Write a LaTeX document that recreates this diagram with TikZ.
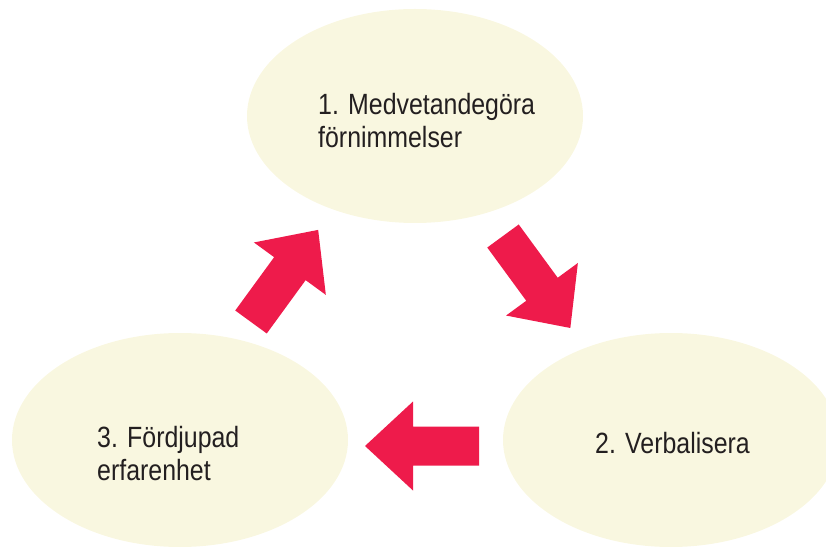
\documentclass[tikz,border=0pt]{standalone}
\usepackage{fontspec}
\setmainfont{Liberation Sans}[FakeStretch=0.85]
\usetikzlibrary{shapes.geometric}
\definecolor{cream}{RGB}{249,247,224}
\definecolor{arrowred}{RGB}{238,27,75}
\definecolor{inkdark}{RGB}{35,31,32}
\tikzset{
  bubble/.style={ellipse, fill=cream, draw=none, minimum width=336pt, minimum height=214pt, inner sep=0pt},
  label/.style={anchor=base west, align=left, inner sep=0pt, text=inkdark, font=\fontsize{29.3}{33}\selectfont},
  blockarrow/.style={fill=arrowred, draw=none}
}
\begin{document}
\begin{tikzpicture}[x=1pt,y=1pt]
\useasboundingbox (0,0) rectangle (826,549);
\node[bubble] (e1) at (415,433) {};
\node[bubble] (e2) at (671,109) {};
\node[bubble] (e3) at (180,109) {};
\node[label] (t1) at (318,401) {1. Medvetandegöra\\förnimmelser};
\node[label] (t2) at (595,96) {2. Verbalisera};
\node[label] (t3) at (97,69) {3. Fördjupad\\erfarenhet};
% block arrows
\fill[blockarrow, shift={(503,313)}, rotate=-53.8] (0,-19.5) -- (66,-19.5) -- (66,-44.5) -- (114,0) -- (66,44.5) -- (66,19.5) -- (0,19.5) -- cycle;
\fill[blockarrow, shift={(479,103)}, rotate=180] (0,-19.5) -- (66,-19.5) -- (66,-44.5) -- (114,0) -- (66,44.5) -- (66,19.5) -- (0,19.5) -- cycle;
\fill[blockarrow, shift={(251,227)}, rotate=53.9] (0,-19.5) -- (66,-19.5) -- (66,-44.5) -- (114,0) -- (66,44.5) -- (66,19.5) -- (0,19.5) -- cycle;
\end{tikzpicture}
\end{document}
